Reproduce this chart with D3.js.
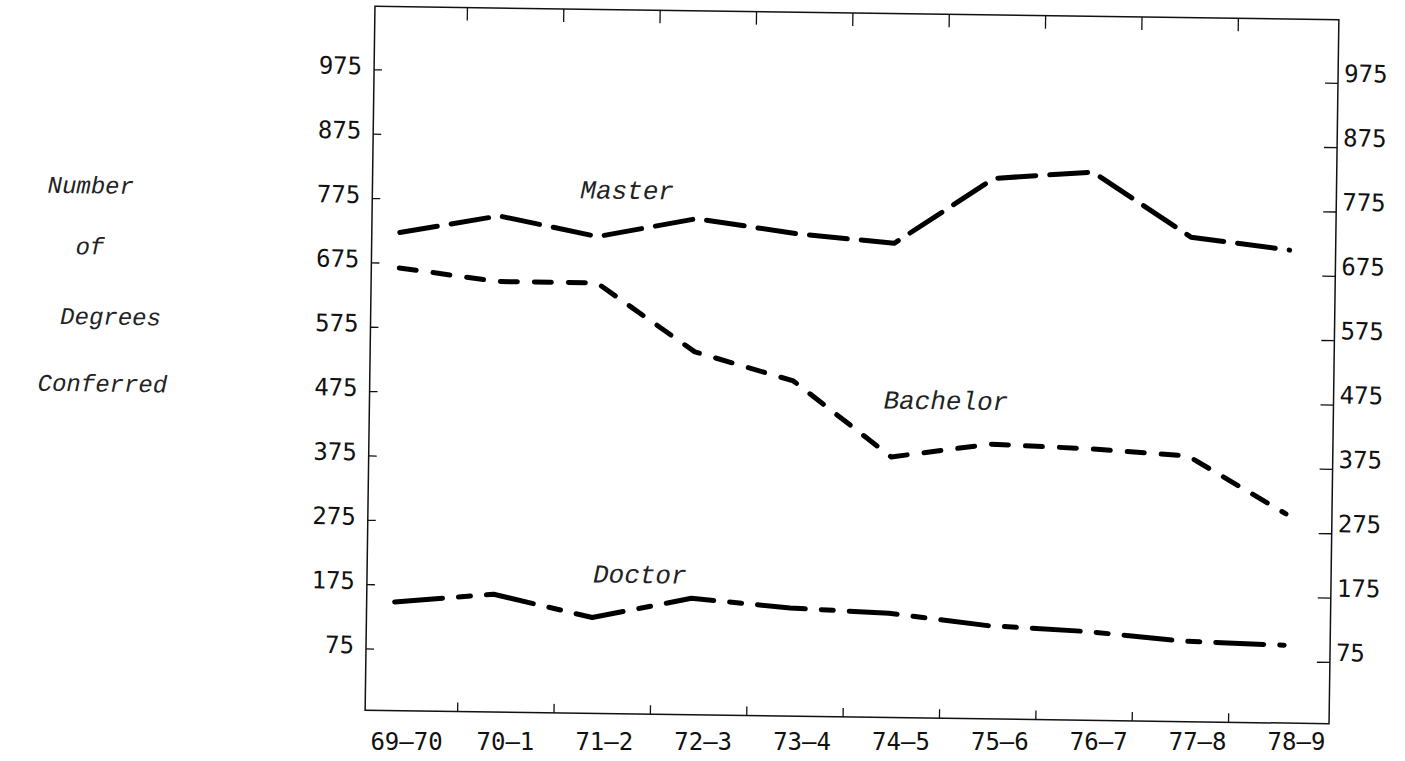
<!DOCTYPE html>
<html>
<head>
<meta charset="utf-8">
<script src="https://cdn.jsdelivr.net/npm/d3@7/dist/d3.min.js"></script>
<style>
  html, body { margin: 0; padding: 0; background: #fff; }
  svg { display: block; }
</style>
</head>
<body>
<svg id="chart" width="1405" height="761"></svg>
<script>
// ---- data ----
const categories = ["69–70","70–1","71–2","72–3","73–4","74–5","75–6","76–7","77–8","78–9"];
const master   = [722, 750, 720, 750, 729, 716, 819, 831, 732, 714];
const bachelor = [667, 648, 648, 543, 500, 384, 406, 401, 392, 304];
const doctor   = [148, 162, 128, 160, 147, 141, 124, 117, 104, 100];
const yTicks   = [75, 175, 275, 375, 475, 575, 675, 775, 875, 975];
const titleLines = ["Number", "of", "Degrees", "Conferred"];

// ---- layout ----
const svg = d3.select("#chart");
const frame = {left: 370, right: 1334, top: 13, bottom: 717};
// the scanned original sits slightly rotated
const g = svg.append("g").attr("transform", "rotate(0.8, 852, 365)");

const x = d3.scalePoint().domain(categories).range([398, 1288]);
const y = d3.scaleLinear().domain([-21, 1073]).range([frame.bottom, frame.top]);
// minor tick marks on the top and bottom edges (one between each pair of years)
const between = d3.scalePoint().domain(d3.range(categories.length - 1)).range([462, 1233]);

const mono = "'DejaVu Sans Mono', monospace";
const ital = "'Liberation Mono', 'Courier New', monospace";

// frame
g.append("rect")
  .attr("x", frame.left).attr("y", frame.top)
  .attr("width", frame.right - frame.left).attr("height", frame.bottom - frame.top)
  .attr("fill", "none").attr("stroke", "#111").attr("stroke-width", 1.5);

const topAxis = d3.axisBottom(between).tickSize(13).tickFormat("");
const ta = g.append("g").attr("transform", `translate(0,${frame.top})`).call(topAxis);
ta.select(".domain").remove();
ta.selectAll("line").attr("stroke", "#111").attr("stroke-width", 1.3);

const botAxis = d3.axisTop(between).tickSize(9).tickFormat("");
const bta = g.append("g").attr("transform", `translate(0,${frame.bottom})`).call(botAxis);
bta.select(".domain").remove();
bta.selectAll("line").attr("stroke", "#111").attr("stroke-width", 1.3);

// left axis
const leftAxis = d3.axisRight(y).tickValues(yTicks).tickSize(8).tickFormat("");
const la = g.append("g").attr("transform", `translate(${frame.left},0)`).call(leftAxis);
la.select(".domain").remove();
la.selectAll("line").attr("stroke", "#111").attr("stroke-width", 1.3);
g.selectAll(".lt").data(yTicks).enter().append("text")
  .attr("x", frame.left - 12).attr("y", d => y(d) + 5)
  .attr("text-anchor", "end")
  .attr("font-family", mono).attr("font-size", 24).attr("fill", "#111")
  .text(d => d);

// right axis
const rightAxis = d3.axisLeft(y).tickValues(yTicks).tickSize(13).tickFormat("");
const ra = g.append("g").attr("transform", `translate(${frame.right},0)`).call(rightAxis);
ra.select(".domain").remove();
ra.selectAll("line").attr("stroke", "#111").attr("stroke-width", 1.3);
g.selectAll(".rt").data(yTicks).enter().append("text")
  .attr("x", frame.right + 6).attr("y", d => y(d) - 1)
  .attr("text-anchor", "start")
  .attr("font-family", mono).attr("font-size", 24).attr("fill", "#111")
  .text(d => d);

// bottom category labels (kept level so they stay inside the page)
const bottomAxis = d3.axisBottom(x).tickSize(0).tickPadding(0);
const ba = svg.append("g").attr("transform", `translate(8,${frame.bottom})`).call(bottomAxis);
ba.select(".domain").remove();
ba.selectAll("text")
  .attr("y", 33).attr("dy", 0)
  .attr("font-family", mono).attr("font-size", 24).attr("fill", "#111");

// lines
const line = d3.line().x((d, i) => x(categories[i])).y(d => y(d));
const series = [
  {name: "Master",   values: master,   dash: "38,14"},
  {name: "Bachelor", values: bachelor, dash: "17,17"},
  {name: "Doctor",   values: doctor,   dash: "48,16,12,16"}
];
g.selectAll(".series").data(series).enter().append("path")
  .attr("d", d => line(d.values))
  .attr("fill", "none").attr("stroke", "#000")
  .attr("stroke-width", 5).attr("stroke-linecap", "round").attr("stroke-linejoin", "round")
  .attr("stroke-dasharray", d => d.dash);

// series labels
const labels = [
  {text: "Master",   x: 578, y: 202},
  {text: "Bachelor", x: 884, y: 408},
  {text: "Doctor",   x: 596, y: 586}
];
g.selectAll(".slab").data(labels).enter().append("text")
  .attr("x", d => d.x).attr("y", d => d.y)
  .attr("font-family", ital).attr("font-style", "italic").attr("font-size", 26).attr("fill", "#222")
  .text(d => d.text);

// y title, typed in typewriter columns
const titleY = [197, 258, 328, 395];
const titleCol = [0.5, 2.5, 1.5, 0];
const adv = 14.4;
g.selectAll(".ytitle").data(titleLines).enter().append("text")
  .attr("x", (d, i) => 38 + titleCol[i] * adv).attr("y", (d, i) => titleY[i] + 7)
  .attr("text-anchor", "start")
  .attr("font-family", ital).attr("font-style", "italic").attr("font-size", 24).attr("fill", "#222")
  .text(d => d);
</script>
</body>
</html>
